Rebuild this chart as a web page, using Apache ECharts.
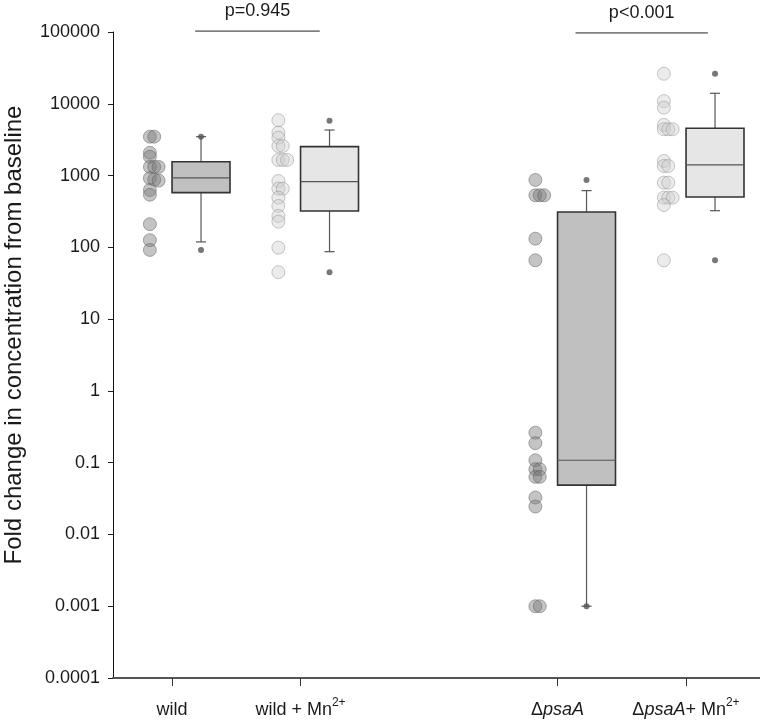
<!DOCTYPE html>
<html><head><meta charset="utf-8">
<script src="https://cdn.jsdelivr.net/npm/echarts@6/dist/echarts.min.js"></script>
<style>html,body{margin:0;padding:0;background:#fff}#c{width:760px;height:725px}</style>
</head><body><div id="c"></div>
<script>
// ---- data ----
const categories = ['wild', 'wild + Mn2+', 'ΔpsaA', 'ΔpsaA+ Mn2+'];
const categoryLabels = ['{n|wild}', '{n|wild + Mn}{sup|2+}', '{n|Δ}{it|psaA}', '{n|Δ}{it|psaA}{n|+ Mn}{sup|2+}'];
const categoryPositions = [1, 2, 4, 5];

const wildValues = [3480, 3480, 2080, 1830, 1320, 1320, 1320, 920, 880, 850, 630, 540, 210, 126, 92];
const wildMnValues = [5890, 3960, 3370, 2580, 2580, 1650, 1650, 1650, 840, 657, 657, 492, 377, 274, 228, 99, 45];
const psaAValues = [869, 531, 531, 531, 132, 66, 0.262, 0.187, 0.108, 0.081, 0.081, 0.0634, 0.0634, 0.0327, 0.0245, 0.001, 0.001];
const psaAMnValues = [26200, 10900, 8830, 5070, 4420, 4420, 4420, 1597, 1360, 1360, 796, 796, 492, 492, 492, 389, 66];

// box stats: [lower whisker, Q1, median, Q3, upper whisker]
const wildBox = [119, 578, 927, 1560, 3480];
const wildMnBox = [87, 321, 822, 2530, 4310];
const psaABox = [0.001, 0.0486, 0.108, 311, 617];
const psaAMnBox = [324, 503, 1406, 4560, 14000];

const wildOutliers = [3480, 92];
const wildMnOutliers = [5800, 45];
const psaAOutliers = [869, 0.001];
const psaAMnOutliers = [26200, 66];

const yTickLabels = ['0.0001', '0.001', '0.01', '0.1', '1', '10', '100', '1000', '10000', '100000'];
const pLabels = ['p=0.945', 'p<0.001'];
const pSpans = [[1.18, 2.15], [4.14, 5.17]];
const pLevels = [103000, 97000];

// ---- layout / style constants ----
const DOT_OFFSET = -0.172;
const JITTER_STEP = 0.034;
const BOX_OFFSET = 0.226;
const BOX_W = 0.451;
const CAP_W = 0.078;
const FONT = "'Liberation Sans', Arial, Helvetica, sans-serif";
const groupValues = [wildValues, wildMnValues, psaAValues, psaAMnValues];
const groupBoxes = [wildBox, wildMnBox, psaABox, psaAMnBox];
const groupOutliers = [wildOutliers, wildMnOutliers, psaAOutliers, psaAMnOutliers];
const darkDot = {color: 'rgba(120,120,120,0.55)', borderColor: 'rgba(90,90,90,0.6)', borderWidth: 1};
const lightDot = {color: 'rgba(205,205,205,0.5)', borderColor: 'rgba(140,140,140,0.6)', borderWidth: 1};
const boxFills = ['#c0c0c0', '#e6e6e6', '#c0c0c0', '#e6e6e6'];

function jitterCounts(values) {
  return values.map((v, i) => {
    let c = 0;
    for (let j = 0; j < i; j++) if (Math.abs(Math.log10(values[j]) - Math.log10(v)) < 0.042) c++;
    return c;
  });
}

const series = [];
groupValues.forEach((vals, g) => {
  const counts = jitterCounts(vals);
  series.push({
    type: 'scatter', name: categories[g], symbolSize: 13,
    itemStyle: g % 2 === 0 ? darkDot : lightDot,
    data: vals.map((v, i) => [categoryPositions[g] + DOT_OFFSET + counts[i] * JITTER_STEP, v]),
    z: 3
  });
});

series.push({
  type: 'custom', clip: false, z: 2,
  encode: {x: 0, y: [1, 2, 3, 4, 5]},
  data: groupBoxes.map((b, g) => [categoryPositions[g] + BOX_OFFSET].concat(b)),
  renderItem: function (params, api) {
    const x = api.value(0);
    const lo = api.coord([x, api.value(1)]);
    const q1 = api.coord([x, api.value(2)]);
    const md = api.coord([x, api.value(3)]);
    const q3 = api.coord([x, api.value(4)]);
    const hi = api.coord([x, api.value(5)]);
    const left = api.coord([x - BOX_W / 2, api.value(3)])[0];
    const right = api.coord([x + BOX_W / 2, api.value(3)])[0];
    const cl = api.coord([x - CAP_W / 2, api.value(3)])[0];
    const cr = api.coord([x + CAP_W / 2, api.value(3)])[0];
    const cx = lo[0];
    const wStyle = {stroke: '#555', lineWidth: 1.2};
    return {type: 'group', children: [
      {type: 'line', shape: {x1: cx, y1: q1[1], x2: cx, y2: lo[1]}, style: wStyle},
      {type: 'line', shape: {x1: cx, y1: q3[1], x2: cx, y2: hi[1]}, style: wStyle},
      {type: 'line', shape: {x1: cl, y1: lo[1], x2: cr, y2: lo[1]}, style: wStyle},
      {type: 'line', shape: {x1: cl, y1: hi[1], x2: cr, y2: hi[1]}, style: wStyle},
      {type: 'rect', shape: {x: left, y: q3[1], width: right - left, height: q1[1] - q3[1]},
        style: {fill: boxFills[params.dataIndex], stroke: '#333', lineWidth: 1.6}},
      {type: 'line', shape: {x1: left, y1: md[1], x2: right, y2: md[1]}, style: {stroke: '#555', lineWidth: 1.2}}
    ]};
  }
});

const outlierData = [];
groupOutliers.forEach((o, g) => o.forEach(v => outlierData.push([categoryPositions[g] + BOX_OFFSET, v])));
series.push({
  type: 'scatter', symbolSize: 6, z: 4,
  itemStyle: {color: '#555'},
  data: outlierData
});

series.push({
  type: 'custom', clip: false, z: 5,
  encode: {x: [0, 1], y: 2},
  data: pSpans.map((s, i) => [s[0], s[1], pLevels[i], i]),
  renderItem: function (params, api) {
    const p1 = api.coord([api.value(0), api.value(2)]);
    const p2 = api.coord([api.value(1), api.value(2)]);
    return {type: 'group', children: [
      {type: 'line', shape: {x1: p1[0], y1: p1[1], x2: p2[0], y2: p2[1]}, style: {stroke: '#222', lineWidth: 1}},
      {type: 'text', style: {text: pLabels[params.dataIndex], x: (p1[0] + p2[0]) / 2, y: p1[1] - 20,
        fill: '#1a1a1a', fontSize: 18, fontFamily: FONT, align: 'center', verticalAlign: 'middle'}}
    ]};
  }
});

const chart = echarts.init(document.getElementById('c'), null, {renderer: 'canvas'});
chart.setOption({
  animation: false,
  backgroundColor: '#fff',
  textStyle: {fontFamily: FONT},
  grid: {left: 113, right: 0, top: 32, bottom: 47, containLabel: false, outerBoundsMode: 'none'},
  xAxis: {
    type: 'value', min: 0.541, max: 5.576,
    splitLine: {show: false},
    axisLine: {onZero: false, lineStyle: {color: '#555', width: 2}},
    axisTick: {show: true, customValues: categoryPositions, length: 8, lineStyle: {color: '#333', width: 1}},
    axisLabel: {
      customValues: categoryPositions, margin: 19, color: '#1a1a1a',
      formatter: function (v) { const i = categoryPositions.indexOf(Math.round(v)); return i >= 0 ? categoryLabels[i] : ''; },
      rich: {
        n: {fontSize: 18, lineHeight: 22, verticalAlign: 'bottom', color: '#1a1a1a', fontFamily: FONT},
        it: {fontSize: 18, lineHeight: 22, verticalAlign: 'bottom', fontStyle: 'italic', color: '#1a1a1a', fontFamily: FONT},
        sup: {fontSize: 12, lineHeight: 12, verticalAlign: 'top', color: '#1a1a1a', fontFamily: FONT}
      }
    }
  },
  yAxis: {
    type: 'log', logBase: 10, min: 0.0001, max: 100000, splitNumber: 9,
    splitLine: {show: false},
    minorTick: {show: false},
    axisLine: {show: true, onZero: false, lineStyle: {color: '#111', width: 1}},
    axisTick: {show: true, length: 5, lineStyle: {color: '#222'}},
    axisLabel: {fontSize: 18, color: '#1a1a1a', margin: 13, fontFamily: FONT,
      formatter: function (v) { return yTickLabels[Math.round(Math.log10(v)) + 4]; }},
    name: 'Fold change in concentration from baseline',
    nameLocation: 'middle', nameGap: 87,
    nameTextStyle: {fontSize: 24, color: '#1a1a1a', fontFamily: FONT, padding: [0, 0, 0, 40]}
  },
  series: series
});
</script>
</body></html>
